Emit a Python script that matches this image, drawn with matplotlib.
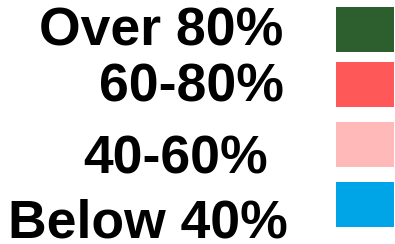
import matplotlib
matplotlib.use('Agg')
import matplotlib.pyplot as plt

# legend entries
labels = ['Over 80%', '60-80%', '40-60%', 'Below 40%']
colors = ['#2d5e2d', '#ff5858', '#ffb9b9', '#00a5e8']

W, H = 395, 244
fig = plt.figure(figsize=(W/100, H/100), dpi=100)
ax = fig.add_axes([0, 0, 1, 1])
ax.set_xlim(0, W)
ax.set_ylim(H, 0)
ax.axis('off')

# layout (pixels)
sw_top = [7, 62, 122, 182]
txt_base = [46, 101, 174, 237]
txt_right = [283, 284, 268, 288]

ax.bar([365]*len(colors), [45]*len(colors), width=58, bottom=sw_top, color=colors, align='center')
for lab, yb, xr in zip(labels, txt_base, txt_right):
    ax.text(xr, yb, lab, ha='right', va='baseline', fontsize=38.5,
            fontweight='bold', family='Liberation Sans', color='black')

fig.savefig('out.png', dpi=100)
